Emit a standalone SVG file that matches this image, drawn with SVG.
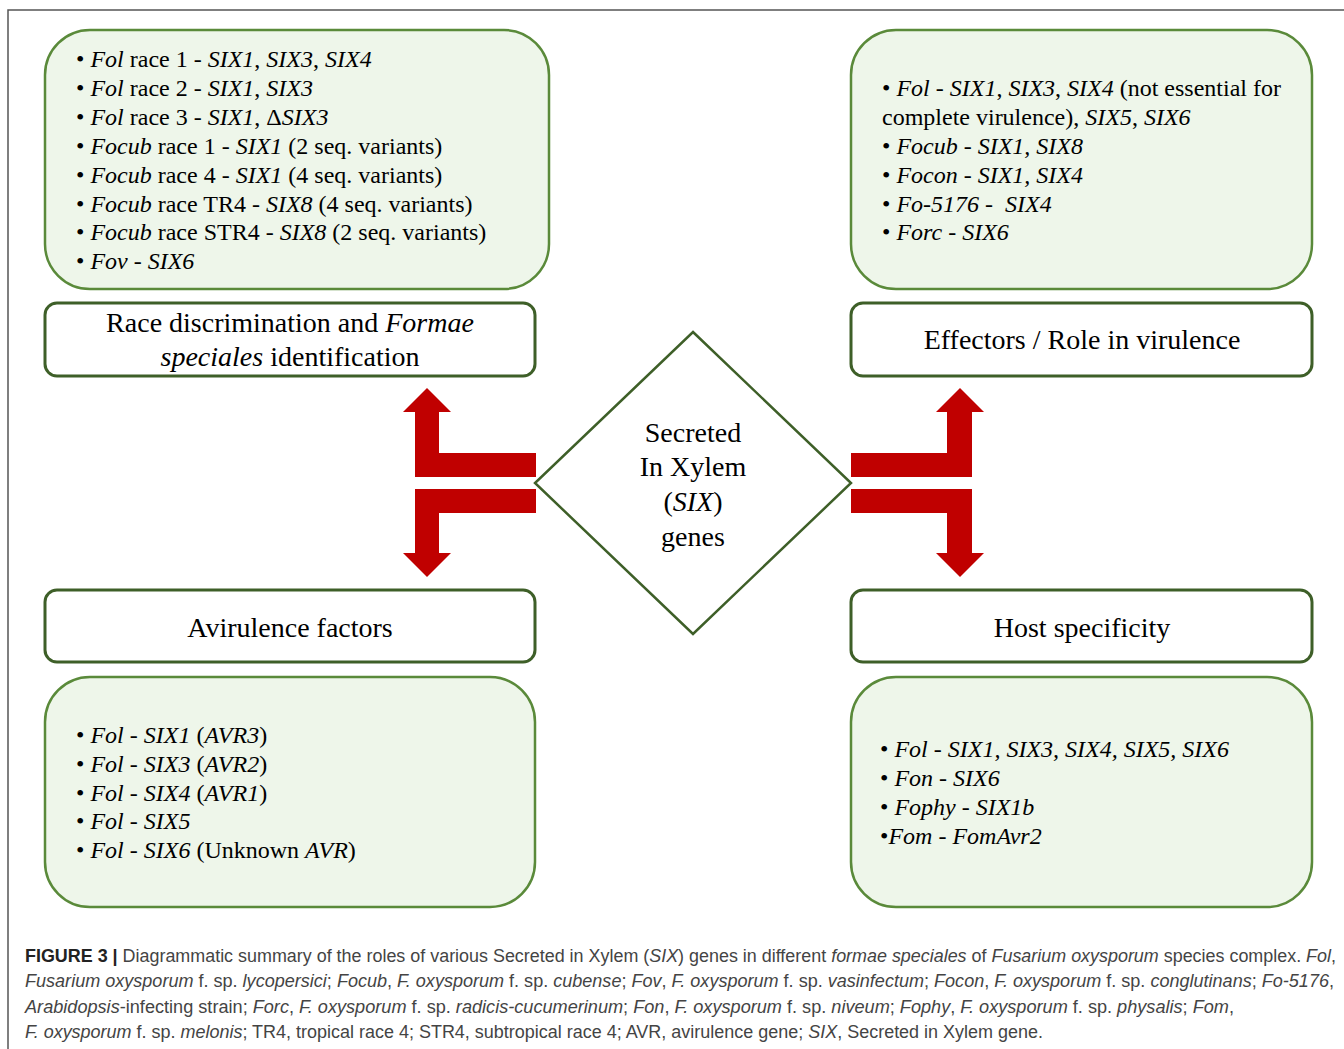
<svg xmlns="http://www.w3.org/2000/svg" width="1344" height="1049" viewBox="0 0 1344 1049">
<style>
.frame{fill:none;stroke:#555;stroke-width:1.5}
.gbox{fill:#eef6ea;stroke:#5a8a3a;stroke-width:2.5}
.hbox{fill:#fff;stroke:#3e5f28;stroke-width:3}
.dia{fill:#fff;stroke:#3e5f28;stroke-width:2.5}
.arr{fill:#c00000}
.body{font-family:"Liberation Serif","Times New Roman",serif;font-size:24px;fill:#000}
.head{font-family:"Liberation Serif","Times New Roman",serif;font-size:28px;fill:#000;text-anchor:middle}
.i{font-style:italic}
.cap{font-family:"Liberation Sans",Arial,sans-serif;font-size:17.5px;fill:#444}
.b{font-weight:bold;fill:#222}
</style>
<rect width="1344" height="1049" fill="#fff"/>
<path class="frame" d="M1344,10 H8 V1049"/>

<g id="connectors">
<polygon class="arr" points="536,453 439,453 439,412 451,412 427,388 403,412 415,412 415,477 536,477"/>
<polygon class="arr" points="536,489 415,489 415,553 403,553 427,577 451,553 439,553 439,513 536,513"/>
<polygon class="arr" points="851,453 947,453 947,412 936,412 960,388 984,412 972,412 972,477 851,477"/>
<polygon class="arr" points="851,489 972,489 972,553 984,553 960,577 936,553 947,553 947,513 851,513"/>
</g>

<g id="center">
<polygon class="dia" points="693,332 851,483 693,634 535,483"/>
<text class="head" x="693" y="442">Secreted</text>
<text class="head" x="693" y="476">In Xylem</text>
<text class="head" x="693" y="511">(<tspan class="i">SIX</tspan>)</text>
<text class="head" x="693" y="546">genes</text>
</g>

<g id="race-list">
<rect class="gbox" x="45" y="30" width="504" height="259" rx="45" ry="45"/>
<text class="body" x="76" y="67">• <tspan class="i">Fol</tspan> race 1 - <tspan class="i">SIX1</tspan>, <tspan class="i">SIX3</tspan>, <tspan class="i">SIX4</tspan></text>
<text class="body" x="76" y="96">• <tspan class="i">Fol</tspan> race 2 - <tspan class="i">SIX1</tspan>, <tspan class="i">SIX3</tspan></text>
<text class="body" x="76" y="125">• <tspan class="i">Fol</tspan> race 3 - <tspan class="i">SIX1</tspan>, Δ<tspan class="i">SIX3</tspan></text>
<text class="body" x="76" y="154">• <tspan class="i">Focub</tspan> race 1 - <tspan class="i">SIX1</tspan> (2 seq. variants)</text>
<text class="body" x="76" y="183">• <tspan class="i">Focub</tspan> race 4 - <tspan class="i">SIX1</tspan> (4 seq. variants)</text>
<text class="body" x="76" y="211.5">• <tspan class="i">Focub</tspan> race TR4 - <tspan class="i">SIX8</tspan> (4 seq. variants)</text>
<text class="body" x="76" y="240">• <tspan class="i">Focub</tspan> race STR4 - <tspan class="i">SIX8</tspan> (2 seq. variants)</text>
<text class="body" x="76" y="269">• <tspan class="i">Fov - SIX6</tspan></text>
</g>

<g id="race-title">
<rect class="hbox" x="45" y="303" width="490" height="73" rx="12" ry="12"/>
<text class="head" x="290" y="332">Race discrimination and <tspan class="i">Formae</tspan></text>
<text class="head" x="290" y="366"><tspan class="i">speciales</tspan> identification</text>
</g>

<g id="effector-list">
<rect class="gbox" x="851" y="30" width="461" height="259" rx="45" ry="45"/>
<text class="body" x="882" y="96">• <tspan class="i">Fol - SIX1</tspan>, <tspan class="i">SIX3</tspan>, <tspan class="i">SIX4</tspan> (not essential for</text>
<text class="body" x="882" y="125">complete virulence), <tspan class="i">SIX5</tspan>, <tspan class="i">SIX6</tspan></text>
<text class="body" x="882" y="154">• <tspan class="i">Focub - SIX1, SIX8</tspan></text>
<text class="body" x="882" y="183">• <tspan class="i">Focon - SIX1, SIX4</tspan></text>
<text class="body" x="882" y="212" xml:space="preserve">• <tspan class="i">Fo-5176 -  SIX4</tspan></text>
<text class="body" x="882" y="240">• <tspan class="i">Forc - SIX6</tspan></text>
</g>

<g id="effector-title">
<rect class="hbox" x="851" y="303" width="461" height="73" rx="12" ry="12"/>
<text class="head" x="1082" y="349">Effectors / Role in virulence</text>
</g>

<g id="avr-title">
<rect class="hbox" x="45" y="590" width="490" height="72" rx="12" ry="12"/>
<text class="head" x="290" y="637">Avirulence factors</text>
</g>

<g id="host-title">
<rect class="hbox" x="851" y="590" width="461" height="72" rx="12" ry="12"/>
<text class="head" x="1082" y="637">Host specificity</text>
</g>

<g id="avr-list">
<rect class="gbox" x="45" y="677" width="490" height="230" rx="45" ry="45"/>
<text class="body" x="76" y="743">• <tspan class="i">Fol - SIX1</tspan> (<tspan class="i">AVR3</tspan>)</text>
<text class="body" x="76" y="772">• <tspan class="i">Fol - SIX3</tspan> (<tspan class="i">AVR2</tspan>)</text>
<text class="body" x="76" y="801">• <tspan class="i">Fol - SIX4</tspan> (<tspan class="i">AVR1</tspan>)</text>
<text class="body" x="76" y="829">• <tspan class="i">Fol - SIX5</tspan></text>
<text class="body" x="76" y="858">• <tspan class="i">Fol - SIX6</tspan> (Unknown <tspan class="i">AVR</tspan>)</text>
</g>

<g id="host-list">
<rect class="gbox" x="851" y="677" width="461" height="230" rx="45" ry="45"/>
<text class="body" x="880" y="757">• <tspan class="i">Fol - SIX1, SIX3, SIX4, SIX5, SIX6</tspan></text>
<text class="body" x="880" y="786">• <tspan class="i">Fon - SIX6</tspan></text>
<text class="body" x="880" y="815">• <tspan class="i">Fophy - SIX1b</tspan></text>
<text class="body" x="880" y="844">•<tspan class="i">Fom - FomAvr2</tspan></text>
</g>

<g id="caption">
<text class="cap" x="25" y="962" textLength="1311" lengthAdjust="spacingAndGlyphs"><tspan class="b">FIGURE 3 |</tspan> Diagrammatic summary of the roles of various Secreted in Xylem (<tspan class="i">SIX</tspan>) genes in different <tspan class="i">formae speciales</tspan> of <tspan class="i">Fusarium oxysporum</tspan> species complex. <tspan class="i">Fol</tspan>,</text>
<text class="cap" x="25" y="987" textLength="1309" lengthAdjust="spacingAndGlyphs"><tspan class="i">Fusarium oxysporum</tspan> f. sp. <tspan class="i">lycopersici</tspan>; <tspan class="i">Focub</tspan>, <tspan class="i">F. oxysporum</tspan> f. sp. <tspan class="i">cubense</tspan>; <tspan class="i">Fov</tspan>, <tspan class="i">F. oxysporum</tspan> f. sp. <tspan class="i">vasinfectum</tspan>; <tspan class="i">Focon</tspan>, <tspan class="i">F. oxysporum</tspan> f. sp. <tspan class="i">conglutinans</tspan>; <tspan class="i">Fo-5176</tspan>,</text>
<text class="cap" x="25" y="1013" textLength="1209" lengthAdjust="spacingAndGlyphs"><tspan class="i">Arabidopsis</tspan>-infecting strain; <tspan class="i">Forc</tspan>, <tspan class="i">F. oxysporum</tspan> f. sp. <tspan class="i">radicis-cucumerinum</tspan>; <tspan class="i">Fon</tspan>, <tspan class="i">F. oxysporum</tspan> f. sp. <tspan class="i">niveum</tspan>; <tspan class="i">Fophy</tspan>, <tspan class="i">F. oxysporum</tspan> f. sp. <tspan class="i">physalis</tspan>; <tspan class="i">Fom</tspan>,</text>
<text class="cap" x="25" y="1038" textLength="1018" lengthAdjust="spacingAndGlyphs"><tspan class="i">F. oxysporum</tspan> f. sp. <tspan class="i">melonis</tspan>; TR4, tropical race 4; STR4, subtropical race 4; AVR, avirulence gene; <tspan class="i">SIX</tspan>, Secreted in Xylem gene.</text>
</g>
</svg>
